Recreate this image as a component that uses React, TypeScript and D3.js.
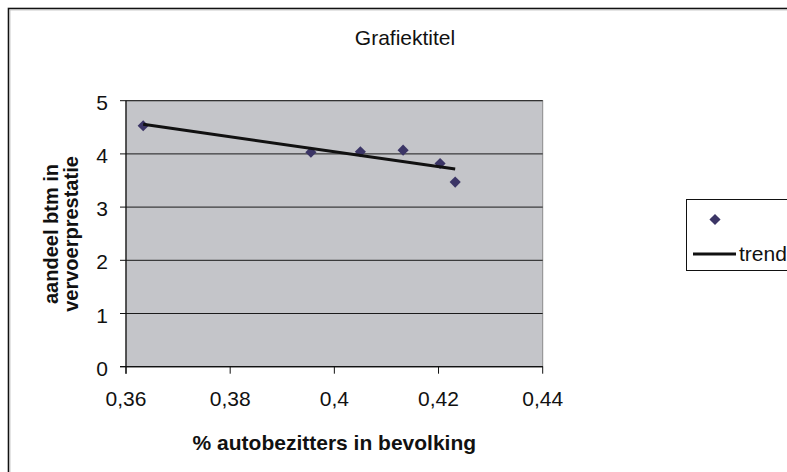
import React from "react";
import * as d3 from "d3";

const xValues = [0.3633, 0.3955, 0.405, 0.4132, 0.4203, 0.4232];
const yValues = [4.53, 4.03, 4.04, 4.07, 3.82, 3.47];
const xTicks = [0.36, 0.38, 0.4, 0.42, 0.44];
const xTickLabels = ["0,36", "0,38", "0,4", "0,42", "0,44"];
const yTicks = [0, 1, 2, 3, 4, 5];
const title = "Grafiektitel";
const xTitle = "% autobezitters in bevolking";
const yTitleLines = ["aandeel btm in", "vervoerprestatie"];
const legendLabel = "trend";

const FONT = "'Liberation Sans', Arial, Helvetica, sans-serif";

export default function App() {
  const W = 787;
  const H = 472;
  const x = d3.scaleLinear().domain([0.36, 0.44]).range([126, 542.7]);
  const y = d3.scaleLinear().domain([0, 5]).range([366.7, 100.7]);

  // linear trend line (least squares) from data
  const mx = d3.mean(xValues) as number;
  const my = d3.mean(yValues) as number;
  let sxy = 0;
  let sxx = 0;
  xValues.forEach((xv, i) => {
    sxy += (xv - mx) * (yValues[i] - my);
    sxx += (xv - mx) * (xv - mx);
  });
  const slope = sxy / sxx;
  const icpt = my - slope * mx;
  const tx = d3.extent(xValues) as [number, number];
  const trendPts: [number, number][] = tx.map((v) => [v, icpt + slope * v]);
  const line = d3
    .line<[number, number]>()
    .x((d) => x(d[0]))
    .y((d) => y(d[1]));

  const diamond = d3.symbol().type(d3.symbolSquare).size(62)() as string;
  const markerColor = "#3b3566";

  const [x0, x1] = x.range();
  const [y0, y1] = y.range();

  return (
    <svg
      width={W}
      height={H}
      style={{ position: "fixed", left: 0, top: 0, background: "#fff" }}
      fontFamily={FONT}
    >
      {/* outer frame */}
      <rect x={8.5} y={8.5} width={900} height={600} fill="#fff" stroke="#111" strokeWidth={1.6} />
      <rect x={10} y={10} width={900} height={600} fill="none" stroke="#bbb" strokeWidth={0.8} />

      <text x={405} y={45} textAnchor="middle" fontSize={21} fill="#111">
        {title}
      </text>

      {/* plot area */}
      <rect x={x0} y={y1} width={x1 - x0} height={y0 - y1} fill="#c4c5c9" stroke="#8a8a8a" strokeWidth={1} />
      {yTicks.map((t) => (
        <line key={"g" + t} x1={x0} x2={x1} y1={y(t)} y2={y(t)} stroke="#1a1a1a" strokeWidth={1} />
      ))}
      {/* axes */}
      <line x1={x0} x2={x0} y1={y1} y2={y0 + 7} stroke="#111" strokeWidth={1.2} />
      <line x1={x0 - 6} x2={x1} y1={y0} y2={y0} stroke="#111" strokeWidth={1.2} />
      {yTicks.map((t) => (
        <g key={"yt" + t}>
          <line x1={x0 - 6} x2={x0} y1={y(t)} y2={y(t)} stroke="#111" strokeWidth={1} />
          <text x={108} y={y(t) + 9} textAnchor="end" fontSize={21} fill="#111">
            {String(t)}
          </text>
        </g>
      ))}
      {xTicks.map((t, i) => (
        <g key={"xt" + t}>
          <line x1={x(t)} x2={x(t)} y1={y0} y2={y0 + 7} stroke="#111" strokeWidth={1} />
          <text x={x(t)} y={405.5} textAnchor="middle" fontSize={21} fill="#111">
            {xTickLabels[i]}
          </text>
        </g>
      ))}

      {/* axis titles */}
      <text x={(x0 + x1) / 2} y={450} textAnchor="middle" fontSize={21} fontWeight="bold" fill="#111">
        {xTitle}
      </text>
      {yTitleLines.map((s, i) => {
        const bx = 57.5 + i * 20.5;
        const cy = 234;
        return (
          <text
            key={s}
            x={bx}
            y={cy}
            transform={`rotate(-90 ${bx} ${cy})`}
            textAnchor="middle"
            fontSize={20}
            fontWeight="bold"
            fill="#111"
          >
            {s}
          </text>
        );
      })}

      {/* markers */}
      {xValues.map((xv, i) => (
        <path
          key={"m" + i}
          d={diamond}
          transform={`translate(${x(xv)},${y(yValues[i])}) rotate(45)`}
          fill={markerColor}
        />
      ))}

      {/* trend line */}
      <path d={line(trendPts) as string} fill="none" stroke="#111" strokeWidth={3} />

      {/* legend */}
      <rect x={686.5} y={199.5} width={200} height={71} fill="#fff" stroke="#111" strokeWidth={1} />
      <path d={diamond} transform="translate(715,219.5) rotate(45)" fill={markerColor} />
      <line x1={693} x2={736} y1={254} y2={254} stroke="#111" strokeWidth={3} />
      <text x={739} y={261} fontSize={21} fill="#111">
        {legendLabel}
      </text>
    </svg>
  );
}
